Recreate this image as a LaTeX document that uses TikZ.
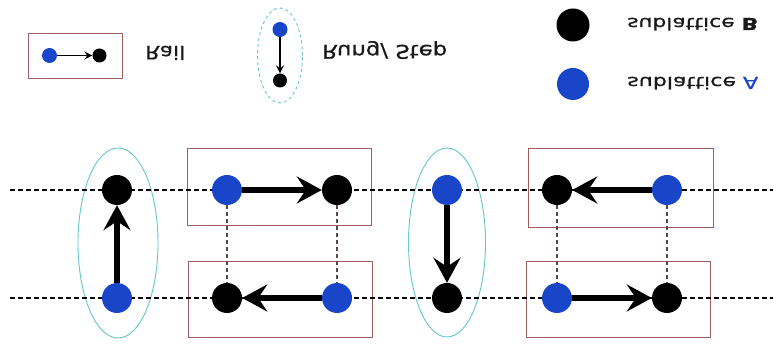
\documentclass[tikz,border=0pt]{standalone}
\usepackage{fontspec}
\setmainfont{DejaVu Sans}
\newfontfamily\lblfont[FakeBold=0.6]{DejaVu Sans}
\usetikzlibrary{arrows.meta,shapes.geometric}
\definecolor{dotblue}{RGB}{25,70,200}
\definecolor{boxred}{RGB}{160,95,95}
\definecolor{ringteal}{RGB}{100,200,200}
\definecolor{txtgray}{RGB}{25,25,25}
\definecolor{vgray}{RGB}{90,70,70}
\newcommand{\flipt}[3]{\scalebox{1}[-1]{\resizebox{#1}{#2}{\lblfont #3}}}
\begin{document}
\begin{tikzpicture}[x=1pt,y=-1pt,
  bdot/.style={circle,inner sep=0pt,minimum size=30pt,fill=dotblue},
  kdot/.style={circle,inner sep=0pt,minimum size=30pt,fill=black},
  sbdot/.style={circle,inner sep=0pt,minimum size=15pt,fill=dotblue},
  skdot/.style={circle,inner sep=0pt,minimum size=14pt,fill=black},
  railbox/.style={draw=boxred,line width=0.9pt,inner sep=0pt,rectangle},
  rungring/.style={draw=ringteal,line width=0.9pt,inner sep=0pt,ellipse},
  hdash/.style={draw=black,line width=1.5pt,dash pattern=on 5pt off 3pt},
  vdash/.style={draw=vgray,line width=1.1pt,dash pattern=on 4pt off 3pt},
  bigarrow/.style={draw=black,line width=5.5pt,-{Stealth[length=25pt,width=27pt,inset=9pt]}},
  smallarrow/.style={draw=black,line width=1.5pt,-{Stealth[length=8pt,width=8pt,inset=3pt]}},
  lbl/.style={anchor=base west,inner sep=0pt,text=txtgray}
]
\useasboundingbox (0,0) rectangle (780,347);
\fill[white] (0,0) rectangle (780,347);

% ---------- legend ----------
\node[railbox,minimum width=94pt,minimum height=45pt] (legbox) at (75,55.5) {};
\node[sbdot] (legA) at (49.5,55.5) {};
\node[skdot] (legB) at (99.5,55.5) {};
\draw[smallarrow] (legA) -- (legB);
\node[lbl] (trail) at (145,46) {\flipt{40pt}{14pt}{Rail}};

\node[rungring,dashed,minimum width=45pt,minimum height=95pt] (legring) at (280,55.5) {};
\node[sbdot] (legRA) at (280,29.5) {};
\node[skdot] (legRB) at (280,80.5) {};
\draw[smallarrow] (legRA) -- (legRB);
\node[lbl] (trung) at (322,45) {\flipt{125pt}{14pt}{Rung/ Step}};

\node[circle,inner sep=0pt,minimum size=33pt,fill=black] (legsubB) at (573,25) {};
\node[circle,inner sep=0pt,minimum size=32pt,fill=dotblue] (legsubA) at (573,84) {};
\node[lbl] (tsubB) at (627,18) {\flipt{131pt}{12.5pt}{sublattice \textbf{B}}};
\node[lbl] (tsubA) at (627,77) {\flipt{131pt}{12.5pt}{sublattice \textcolor{dotblue}{A}}};

% ---------- main lattice ----------
\node[railbox,minimum width=184pt,minimum height=77pt] (b1t) at (279,186.5) {};
\node[railbox,minimum width=184pt,minimum height=76pt] (b1b) at (280,299) {};
\node[railbox,minimum width=185pt,minimum height=79pt] (b2t) at (620.5,187.5) {};
\node[railbox,minimum width=184pt,minimum height=76pt] (b2b) at (618,299) {};
\node[rungring,minimum width=80pt,minimum height=190pt] (r1) at (118,243) {};
\node[rungring,minimum width=77pt,minimum height=189pt] (r2) at (447,242.5) {};

\coordinate (tl) at (10,190);
\coordinate (tr) at (773,190);
\coordinate (bl) at (10,298);
\coordinate (br) at (773,298);
\draw[hdash] (tl) -- (tr);
\draw[hdash] (bl) -- (br);

\node[kdot] (L1) at (117,190) {};
\node[bdot] (L2) at (117,298) {};
\node[bdot] (P1) at (227,190) {};
\node[kdot] (P2) at (337,190) {};
\node[kdot] (P3) at (227,298) {};
\node[bdot] (P4) at (337,298) {};
\node[bdot] (M1) at (447,190) {};
\node[kdot] (M2) at (447,298) {};
\node[kdot] (Q1) at (557,190) {};
\node[bdot] (Q2) at (667,190) {};
\node[bdot] (Q3) at (557,298) {};
\node[kdot] (Q4) at (667,298) {};

\draw[vdash] (P1) -- (P3);
\draw[vdash] (P2) -- (P4);
\draw[vdash] (Q1) -- (Q3);
\draw[vdash] (Q2) -- (Q4);

\draw[bigarrow] (L2) -- (L1);
\draw[bigarrow] (P1) -- (P2);
\draw[bigarrow] (P4) -- (P3);
\draw[bigarrow] (M1) -- (M2);
\draw[bigarrow] (Q2) -- (Q1);
\draw[bigarrow] (Q3) -- (Q4);
\end{tikzpicture}
\end{document}
